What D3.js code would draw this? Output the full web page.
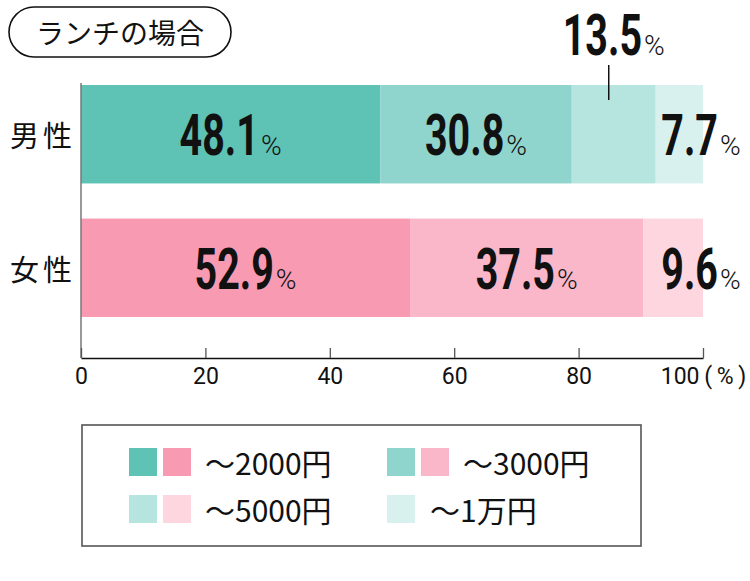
<!DOCTYPE html>
<html>
<head>
<meta charset="utf-8">
<script src="https://cdn.jsdelivr.net/npm/d3@7"></script>
<style>
  html, body { margin: 0; padding: 0; background: #fff; }
  svg { display: block; }
</style>
</head>
<body>
<svg id="chart" width="750" height="581"></svg>
<script>
// ---- data ----
const title = "ランチの場合";
const categories = ["男性", "女性"];
const seriesNames = ["～2000円", "～3000円", "～5000円", "～1万円"];
const maleValues = [48.1, 30.8, 13.5, 7.7];
const femaleValues = [52.9, 37.5, 9.6];
const tickValues = [0, 20, 40, 60, 80, 100];
const tickLabels = ["0", "20", "40", "60", "80", "100\u2009(\u2009%\u2009)"];
const maleColors = ["#5ec2b5", "#90d5cd", "#b6e4df", "#d9f1ee"];
const femaleColors = ["#f89ab2", "#fbb7ca", "#fdd6e0"];

const svg = d3.select("#chart");
const jp = "'Noto Sans CJK JP', 'Noto Sans', sans-serif";
const num = "Roboto, 'Noto Sans', sans-serif";

// ---- title pill ----
svg.append("rect").attr("x", 9).attr("y", 7).attr("width", 222).attr("height", 50)
  .attr("rx", 25).attr("ry", 25).attr("fill", "#fff").attr("stroke", "#111").attr("stroke-width", 1.6);
svg.append("text").attr("x", 120).attr("y", 32).attr("text-anchor", "middle")
  .attr("dominant-baseline", "central").attr("font-family", jp).attr("font-size", 28)
  .attr("fill", "#111").text(title);

// ---- scales ----
const x = d3.scaleLinear().domain([0, 100]).range([81, 703]);
const y = d3.scaleBand().domain(categories).range([85, 317]).paddingInner(0.263).paddingOuter(0);

const rows = [
  { cat: categories[0], values: maleValues, colors: maleColors },
  { cat: categories[1], values: femaleValues, colors: femaleColors }
];

// ---- bars ----
rows.forEach(r => {
  let acc = 0;
  const segs = r.values.map((v, i) => { const s = { x0: acc, x1: acc + v, v, i }; acc += v; return s; });
  r.segs = segs;
  svg.append("g").selectAll("rect").data(segs).join("rect")
    .attr("x", d => x(d.x0))
    .attr("y", y(r.cat))
    .attr("width", d => x(Math.min(d.x1, 100)) - x(d.x0))
    .attr("height", y.bandwidth())
    .attr("fill", d => r.colors[d.i]);
});

// ---- axes ----
svg.append("line").attr("x1", x(0)).attr("x2", x(0)).attr("y1", 83).attr("y2", 358)
  .attr("stroke", "#777").attr("stroke-width", 1.5);

const xAxis = d3.axisBottom(x).tickValues(tickValues)
  .tickFormat((d, i) => tickLabels[i]).tickSizeInner(-10).tickSizeOuter(0).tickPadding(18);
const gx = svg.append("g").attr("transform", "translate(0,358)").call(xAxis);
gx.select(".domain").attr("stroke", "#111").attr("stroke-width", 1.6);
gx.selectAll(".tick line").attr("stroke", "#555").attr("stroke-width", 1.3);
gx.selectAll(".tick text").attr("font-family", num).attr("font-size", 23).attr("fill", "#111")
  .attr("dy", "0.71em").attr("y", 10);

// category labels
svg.append("g").selectAll("text").data(categories).join("text")
  .attr("x", 10).attr("y", d => y(d) + y.bandwidth() / 2)
  .attr("dominant-baseline", "central").attr("font-family", jp).attr("font-size", 29)
  .attr("letter-spacing", 4).attr("fill", "#111").text(d => d);

// ---- value labels ----
const SX = 0.68;
function valueLabel(cx, baseline, value) {
  const g = svg.append("g");
  const t = g.append("text").attr("font-family", num).attr("font-weight", 700)
    .attr("font-size", 58).attr("fill", "#111").attr("transform", `scale(${SX},1)`)
    .text(value.toFixed(1));
  const p = g.append("text").attr("font-family", num).attr("font-weight", 300)
    .attr("font-size", 28).attr("fill", "#111").text("%");
  const wn = t.node().getComputedTextLength() * SX;
  const wp = p.node().getComputedTextLength();
  const left = cx - (wn + 2 + wp) / 2;
  t.attr("x", left / SX).attr("y", baseline);
  p.attr("x", left + wn + 2).attr("y", baseline);
}

rows.forEach((r, ri) => {
  const base = y(r.cat) + y.bandwidth() / 2 + 21;
  r.segs.forEach((s, i) => {
    const last = i === r.segs.length - 1;
    if (last) {
      valueLabel(x(100) - 2, base, s.v);
    } else if (s.v < 20) {
      const cx = (x(s.x0) + x(s.x1)) / 2;
      valueLabel(cx, 55, s.v);
      svg.append("line").attr("x1", cx - 5).attr("x2", cx - 5).attr("y1", 65).attr("y2", 100)
        .attr("stroke", "#111").attr("stroke-width", 1.5);
    } else {
      valueLabel((x(s.x0) + x(s.x1)) / 2, base, s.v);
    }
  });
});

// ---- legend ----
svg.append("rect").attr("x", 82).attr("y", 425).attr("width", 559).attr("height", 121)
  .attr("fill", "none").attr("stroke", "#555").attr("stroke-width", 1.6);

const legendItems = [
  { name: seriesNames[0], colors: [maleColors[0], femaleColors[0]], x: 129, y: 448 },
  { name: seriesNames[1], colors: [maleColors[1], femaleColors[1]], x: 387, y: 448 },
  { name: seriesNames[2], colors: [maleColors[2], femaleColors[2]], x: 129, y: 495 },
  { name: seriesNames[3], colors: [maleColors[3]], x: 387, y: 495 }
];
const lg = svg.append("g").selectAll("g").data(legendItems).join("g")
  .attr("transform", d => `translate(${d.x},${d.y})`);
lg.selectAll("rect").data(d => d.colors).join("rect")
  .attr("x", (c, i) => i * 34).attr("y", 0).attr("width", 28).attr("height", 28)
  .attr("fill", c => c);
lg.append("text")
  .attr("x", d => d.colors.length === 2 ? 76 : 43)
  .attr("y", 27).attr("font-family", jp).attr("font-size", 30).attr("fill", "#111")
  .text(d => d.name);
</script>
</body>
</html>
